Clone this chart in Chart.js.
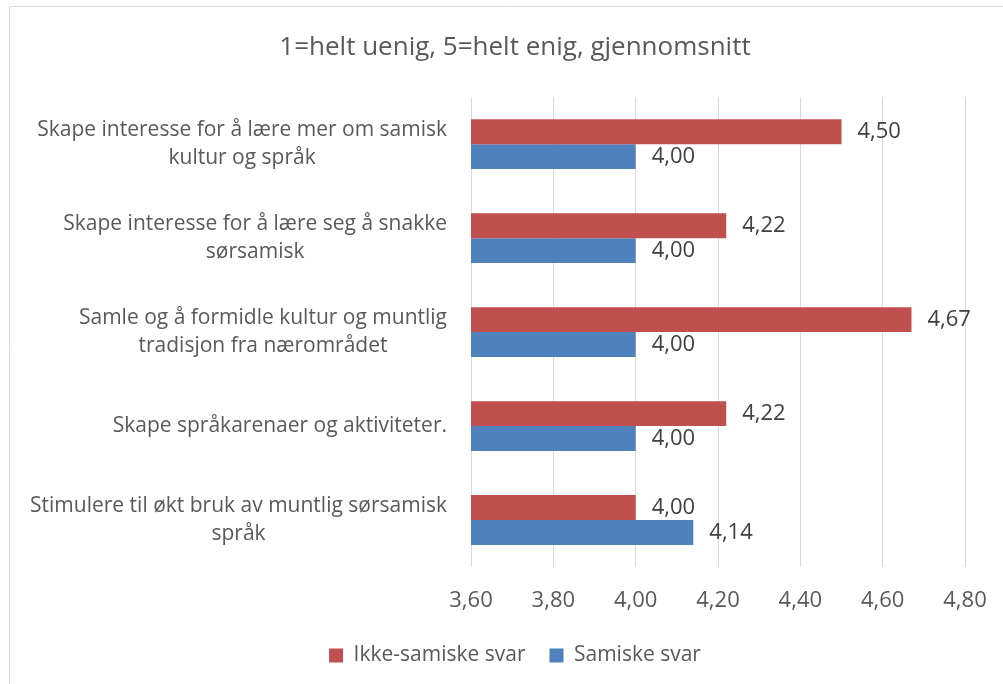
<!DOCTYPE html>
<html>
<head>
<meta charset="utf-8">
<script src="https://cdn.jsdelivr.net/npm/chart.js@4"></script>
<style>
  html, body { margin: 0; padding: 0; background: #fff; }
</style>
</head>
<body>
<canvas id="myChart" width="1003" height="684"></canvas>
<script>
const categories = [
    ['Skape interesse for å lære mer om samisk', 'kultur og språk'],
    ['Skape interesse for å lære seg å snakke', 'sørsamisk'],
    ['Samle og å formidle kultur og muntlig', 'tradisjon fra nærområdet'],
    ['Skape språkarenaer og aktiviteter.'],
    ['Stimulere til økt bruk av muntlig sørsamisk', 'språk']
];
const seriesNames = ['Ikke-samiske svar', 'Samiske svar'];
const ikkeSamiske = [4.50, 4.22, 4.67, 4.22, 4.00];
const samiske = [4.00, 4.00, 4.00, 4.00, 4.14];
const xTicks = [3.6, 3.8, 4.0, 4.2, 4.4, 4.6, 4.8];
const titleText = '1=helt uenig, 5=helt enig, gjennomsnitt';

const FONT = "'Open Sans', sans-serif";
const GREY = '#595959';
const PAD_LEFT = 27;
const PAD_BOTTOM = 8;

function fmt(v) {
    return v.toFixed(2).replace('.', ',');
}

// light outer frame like the Excel chart area
const framePlugin = {
    id: 'frame',
    beforeDraw(chart) {
        const c = chart.ctx;
        c.save();
        c.strokeStyle = '#d9d9d9';
        c.lineWidth = 1;
        c.beginPath();
        c.moveTo(9.5, chart.height);
        c.lineTo(9.5, 6.5);
        c.lineTo(chart.width, 6.5);
        c.stroke();
        c.restore();
    }
};

// category labels: lines centred on each other, block right aligned
const catLabelPlugin = {
    id: 'catLabels',
    afterDraw(chart) {
        const c = chart.ctx;
        const y = chart.scales.y;
        const right = chart.chartArea.left - 24;
        c.save();
        c.font = '21px ' + FONT;
        c.fillStyle = GREY;
        c.textAlign = 'center';
        c.textBaseline = 'middle';
        categories.forEach((lines, i) => {
            const w = Math.max(...lines.map(l => c.measureText(l).width));
            const cx = right - w / 2;
            const cy = y.getPixelForTick(i);
            const lh = 28;
            lines.forEach((l, k) => {
                c.fillText(l, cx, cy + (k - (lines.length - 1) / 2) * lh);
            });
        });
        c.restore();
    }
};

// value labels at the end of each bar
const valueLabelPlugin = {
    id: 'valueLabels',
    afterDatasetsDraw(chart) {
        const c = chart.ctx;
        c.save();
        c.font = '22px ' + FONT;
        c.fillStyle = '#404040';
        c.textAlign = 'left';
        c.textBaseline = 'middle';
        chart.data.datasets.forEach((ds, di) => {
            chart.getDatasetMeta(di).data.forEach((bar, i) => {
                c.fillText(fmt(ds.data[i]), bar.x + 16, bar.y);
            });
        });
        c.restore();
    }
};

const ctx = document.getElementById('myChart').getContext('2d');

new Chart(ctx, {
    type: 'bar',
    data: {
        labels: categories,
        datasets: [{
            label: seriesNames[0],
            data: ikkeSamiske,
            backgroundColor: '#C0504D',
            categoryPercentage: 0.53,
            barPercentage: 1
        }, {
            label: seriesNames[1],
            data: samiske,
            backgroundColor: '#4F81BD',
            categoryPercentage: 0.53,
            barPercentage: 1
        }]
    },
    options: {
        indexAxis: 'y',
        responsive: false,
        animation: false,
        layout: {
            padding: { left: PAD_LEFT, right: 0, top: 0, bottom: PAD_BOTTOM }
        },
        scales: {
            x: {
                min: 3.6,
                max: 4.8,
                afterBuildTicks(scale) {
                    scale.ticks = xTicks.map(v => ({ value: v }));
                },
                afterFit(scale) {
                    const lh = scale.chart.legend ? scale.chart.legend.height : 60;
                    scale.height = scale.chart.height - PAD_BOTTOM - lh - 567;
                    scale.paddingRight = 38;
                },
                grid: { color: '#d9d9d9', drawTicks: false },
                border: { display: false },
                ticks: {
                    padding: 21,
                    color: GREY,
                    font: { family: FONT, size: 22 },
                    callback: v => fmt(v)
                }
            },
            y: {
                grid: { display: false },
                border: { display: false },
                ticks: { display: false },
                afterFit(scale) {
                    scale.width = 471 - PAD_LEFT;
                }
            }
        },
        plugins: {
            title: {
                display: true,
                text: titleText,
                color: GREY,
                font: { family: FONT, size: 26, weight: 'normal' },
                padding: { top: 32, bottom: 34 }
            },
            legend: {
                position: 'bottom',
                labels: {
                    color: GREY,
                    font: { family: FONT, size: 21 },
                    boxWidth: 14,
                    boxHeight: 14,
                    padding: 24
                }
            },
            tooltip: { enabled: false }
        }
    },
    plugins: [framePlugin, catLabelPlugin, valueLabelPlugin]
});
</script>
</body>
</html>
